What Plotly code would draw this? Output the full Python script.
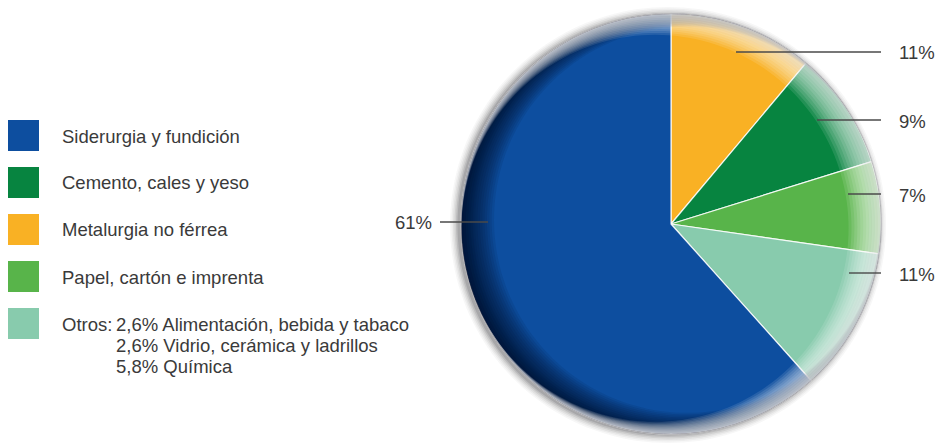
import numpy as np
import plotly.graph_objects as go

# ---- data -------------------------------------------------------------
categories = [
    "Metalurgia no férrea",
    "Cemento, cales y yeso",
    "Papel, cartón e imprenta",
    "Otros",
    "Siderurgia y fundición",
]
shares = [11, 9, 7, 11, 61]
colors = ["#F9B124", "#078440", "#58B44A", "#88CBAD", "#0D4E9F"]

legend_order = [
    "Siderurgia y fundición",
    "Cemento, cales y yeso",
    "Metalurgia no férrea",
    "Papel, cartón e imprenta",
    "Otros",
]
otros_detail = [
    "2,6% Alimentación, bebida y tabaco",
    "2,6% Vidrio, cerámica y ladrillos",
    "5,8% Química",
]

# ---- geometry (pixels) ------------------------------------------------
W, H = 951, 448
CX, CY, R = 671, 224, 210
FONT = dict(family="Liberation Sans", size=18.5, color="#3a3a3a")


def px(x):
    return x / W


def py(y):
    return 1 - y / H


def circle_path(x0, y0, r, reverse=False, n=180):
    t = np.linspace(0, 2 * np.pi, n, endpoint=False)
    if reverse:
        t = t[::-1]
    xs = x0 + r * np.cos(t)
    ys = y0 + r * np.sin(t)
    pts = [f"{px(a):.5f},{py(b):.5f}" for a, b in zip(xs, ys)]
    return "M" + " L".join(pts) + " Z"


shapes = []

# soft shadow outside the disc
for k, a in enumerate([0.04, 0.05, 0.07, 0.09, 0.12, 0.15]):
    rr = R + 8 - k * 1.5
    shapes.append(dict(type="path", xref="paper", yref="paper", layer="below",
                       path=circle_path(CX - 3, CY + 1, rr),
                       fillcolor=f"rgba(50,50,60,{a})", line=dict(width=0)))

# uniform faint rim all round
for k in range(1, 6):
    p = circle_path(CX, CY, R) + " " + circle_path(CX, CY, R - 2.5 * k, reverse=True)
    shapes.append(dict(type="path", xref="paper", yref="paper", layer="above",
                       path=p, fillcolor="rgba(3,10,30,0.035)", line=dict(width=0)))

# darker rim toward the lower left
dark_dir = np.array([np.sin(np.radians(255)), -np.cos(np.radians(255))])
for k in range(1, 15):
    d = 1.2 * k
    ic = np.array([CX, CY]) - d * dark_dir
    p = circle_path(CX, CY, R) + " " + circle_path(ic[0], ic[1], R - d, reverse=True)
    shapes.append(dict(type="path", xref="paper", yref="paper", layer="above",
                       path=p, fillcolor="rgba(3,10,30,0.085)", line=dict(width=0)))

# lighter rim toward the upper right
light_dir = np.array([np.sin(np.radians(75)), -np.cos(np.radians(75))])
for k in range(1, 12):
    d = 1.5 * k
    ic = np.array([CX, CY]) - d * light_dir
    p = circle_path(CX, CY, R) + " " + circle_path(ic[0], ic[1], R - d, reverse=True)
    shapes.append(dict(type="path", xref="paper", yref="paper", layer="above",
                       path=p, fillcolor="rgba(255,255,255,0.11)", line=dict(width=0)))

# thin outline
shapes.append(dict(type="path", xref="paper", yref="paper", layer="above",
                   path=circle_path(CX, CY, R + 0.5),
                   fillcolor="rgba(0,0,0,0)", line=dict(width=1, color="rgba(160,160,165,0.6)")))

# ---- value labels with leader lines ------------------------------------
right_label_y = [52, 120, 194, 273]
right_line_x0 = [736, 817, 848, 849]
annotations = []
for i in range(4):
    y = right_label_y[i]
    shapes.append(dict(type="line", xref="paper", yref="paper", layer="above",
                       x0=px(right_line_x0[i]), x1=px(881), y0=py(y), y1=py(y),
                       line=dict(width=1.4, color="#4a4a4a")))
    annotations.append(dict(xref="paper", yref="paper", x=px(897), y=py(y + 1),
                            xanchor="left", yanchor="middle", showarrow=False,
                            text=f"{shares[i]}%", font=FONT))

shapes.append(dict(type="line", xref="paper", yref="paper", layer="above",
                   x0=px(440), x1=px(488), y0=py(222), y1=py(222),
                   line=dict(width=1.4, color="#4a4a4a")))
annotations.append(dict(xref="paper", yref="paper", x=px(434), y=py(222),
                        xanchor="right", yanchor="middle", showarrow=False,
                        text=f"{shares[4]}%", font=FONT))

# ---- legend ------------------------------------------------------------
color_of = dict(zip(categories, colors))
for i, name in enumerate(legend_order):
    top = 120 + i * 47
    shapes.append(dict(type="rect", xref="paper", yref="paper", layer="above",
                       x0=px(8), x1=px(39), y0=py(top), y1=py(top + 31),
                       fillcolor=color_of[name], line=dict(width=0)))
    if name == "Otros":
        annotations.append(dict(xref="paper", yref="paper", x=px(60), y=py(324),
                                xanchor="left", yanchor="middle", showarrow=False,
                                text=name + ":", font=FONT))
    else:
        annotations.append(dict(xref="paper", yref="paper", x=px(60), y=py(top + 16),
                                xanchor="left", yanchor="middle", showarrow=False,
                                text=name, font=FONT))

for j, line in enumerate(otros_detail):
    annotations.append(dict(xref="paper", yref="paper", x=px(114), y=py(324 + 21 * j),
                            xanchor="left", yanchor="middle", showarrow=False,
                            text=line, font=FONT))

# ---- figure ------------------------------------------------------------
fig = go.Figure(go.Pie(
    labels=categories,
    values=shares,
    sort=False,
    direction="clockwise",
    rotation=0,
    textinfo="none",
    hoverinfo="label+percent",
    marker=dict(colors=colors, line=dict(color="rgba(255,255,255,0.85)", width=1.2)),
    domain=dict(x=[px(CX - R), px(CX + R)], y=[py(CY + R), py(CY - R)]),
    showlegend=False,
))

fig.update_layout(
    width=W, height=H,
    margin=dict(l=0, r=0, t=0, b=0),
    paper_bgcolor="white", plot_bgcolor="white",
    shapes=shapes,
    annotations=annotations,
)

fig.write_html("out.html")
